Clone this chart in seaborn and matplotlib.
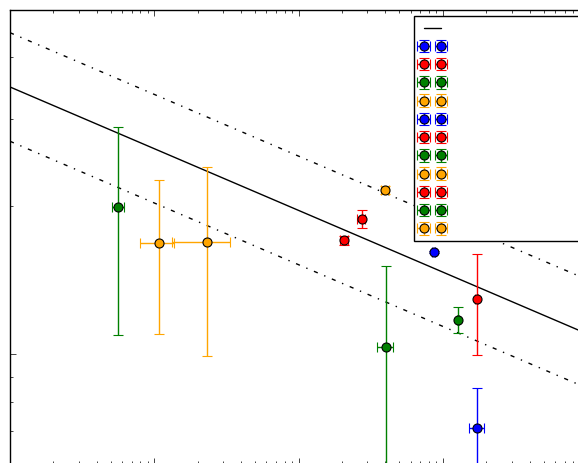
import numpy as np
import pandas as pd
import matplotlib
matplotlib.use("Agg")
import matplotlib.pyplot as plt
import seaborn as sns
from matplotlib.lines import Line2D

# Measurements (listed in legend order), symmetric 1-sigma errors
colors = ["blue", "red", "green", "orange", "blue", "red",
          "green", "orange", "red", "green", "orange"]
x_vals = [868.0, 273.7, 5.63, 10.83, 1731.0, 206.4, 1266.0, 23.3, 1715.0, 401.5, 397.0]
x_errs = [21.0, 17.5, 0.5, 2.9, 206.0, 13.0, 20.0, 10.0, 40.0, 53.0, 25.0]
y_vals = [1.615, 1.884, 1.993, 1.682, 0.709, 1.706, 1.176, 1.693, 1.296, 1.034, 2.154]
y_errs = [0.008, 0.08, 0.90, 0.58, 0.146, 0.036, 0.07, 0.70, 0.30, 0.48, 0.04]

# Power-law relation log10(y) = norm + slope*log10(x), with +/- scatter band
rel_norm = 0.542
rel_slope = -0.125
rel_scatter = 0.11

x_limits = (1.0, 1.0e4)
y_limits = (0.6, 5.0)

sns.set_theme(style="ticks", rc={
    "xtick.direction": "in", "ytick.direction": "in",
    "xtick.top": True, "ytick.right": True,
    "xtick.major.size": 4, "xtick.minor.size": 2,
    "ytick.major.size": 4, "ytick.minor.size": 2,
    "xtick.major.width": 0.6, "xtick.minor.width": 0.6,
    "ytick.major.width": 0.6, "ytick.minor.width": 0.6,
    "xtick.minor.visible": True, "ytick.minor.visible": True,
    "axes.edgecolor": "black", "axes.linewidth": 1.0,
    "lines.dashdot_pattern": [3, 5, 1, 5], "lines.scale_dashes": False,
})

fig = plt.figure(figsize=(5.78, 4.64), dpi=100)
W, H = 578.0, 464.0
ax = fig.add_axes([10 / W, (H - 465) / H, 577 / W, 454.5 / H])
ax.set_xscale("log")
ax.set_yscale("log")

x_line = np.logspace(np.log10(x_limits[0]), np.log10(x_limits[1]), 200)
log_fit = rel_norm + rel_slope * np.log10(x_line)
rel = pd.DataFrame({
    "x": x_line,
    "fit": 10 ** log_fit,
    "upper": 10 ** (log_fit + rel_scatter),
    "lower": 10 ** (log_fit - rel_scatter),
})

sns.lineplot(data=rel, x="x", y="fit", ax=ax, color="black", lw=1.0)
sns.lineplot(data=rel, x="x", y="upper", ax=ax, color="black", lw=1.0, linestyle="-.")
sns.lineplot(data=rel, x="x", y="lower", ax=ax, color="black", lw=1.0, linestyle="-.")

handles = [Line2D([], [], color="black", lw=1.0)]
for c, x, xe, y, ye in zip(colors, x_vals, x_errs, y_vals, y_errs):
    h = ax.errorbar(x, y, xerr=xe, yerr=ye, fmt="o", color=c, ecolor=c,
                    mec="black", mew=0.8, ms=6.5, capsize=3.5,
                    elinewidth=1.0, capthick=1.0, zorder=3)
    handles.append(h)

ax.set_xlim(*x_limits)
ax.set_ylim(*y_limits)
ax.set_xlabel("")
ax.set_ylabel("")
ax.tick_params(which="both", labelbottom=False, labelleft=False,
               labeltop=False, labelright=False)

leg = ax.legend(handles, [""] * len(handles), loc="upper left",
                bbox_to_anchor=(414.3 / W, 1 - 17.3 / H, 0.5, 0),
                bbox_transform=fig.transFigure, mode="expand",
                borderaxespad=0, numpoints=2, fancybox=False,
                framealpha=1, edgecolor="black", fontsize=9,
                handlelength=2.0, borderpad=0.45, labelspacing=0.42)
leg.get_frame().set_linewidth(1.0)

fig.savefig("out.png", dpi=100)
